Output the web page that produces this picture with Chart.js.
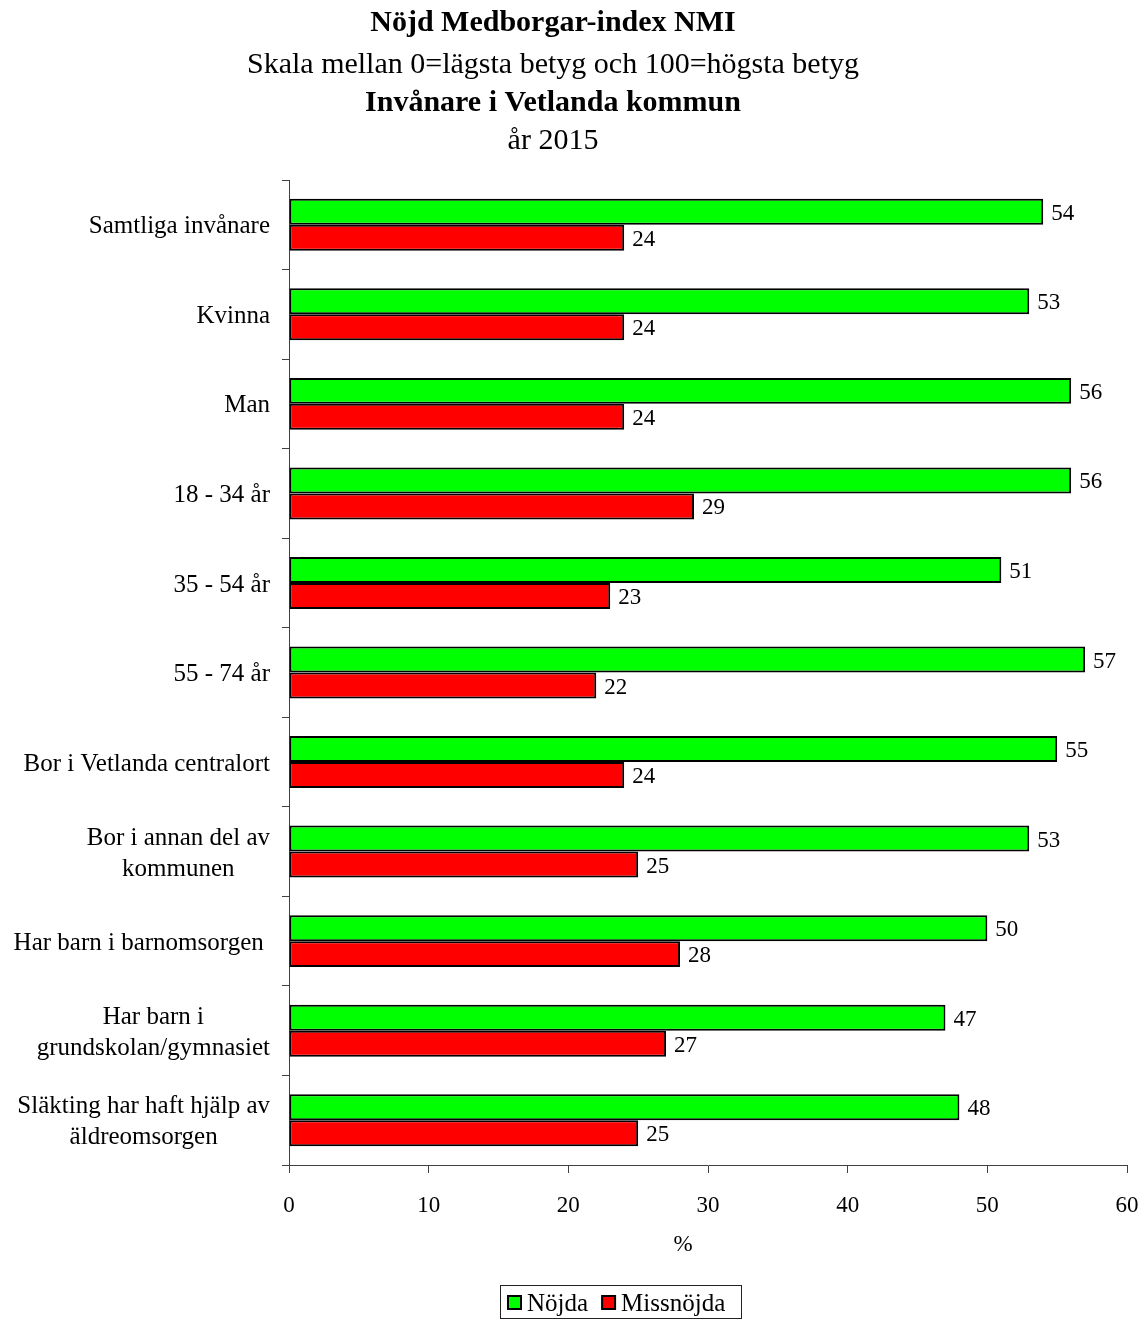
<!DOCTYPE html>
<html>
<head>
<meta charset="utf-8">
<script src="https://cdn.jsdelivr.net/npm/chart.js@4/dist/chart.umd.min.js"></script>
<style>
  html, body { margin: 0; padding: 0; background: #fff; }
</style>
</head>
<body>
<canvas id="myChart" width="1143" height="1319"></canvas>
<script>
const categories = [
    ['Samtliga invånare'],
    ['Kvinna'],
    ['Man'],
    ['18 - 34 år'],
    ['35 - 54 år'],
    ['55 - 74 år'],
    ['Bor i Vetlanda centralort'],
    ['Bor i annan del av', 'kommunen'],
    ['Har barn i barnomsorgen '],
    ['Har barn i', 'grundskolan/gymnasiet'],
    ['Släkting har haft hjälp av', 'äldreomsorgen']
];
const nojda = [54, 53, 56, 56, 51, 57, 55, 53, 50, 47, 48];
const missnojda = [24, 24, 24, 29, 23, 22, 24, 25, 28, 27, 25];
const xMin = 0, xMax = 60, xStep = 10;

const titleLines = [
    { text: 'Nöjd Medborgar-index NMI', bold: true, y: 23 },
    { text: 'Skala mellan 0=lägsta betyg och 100=högsta betyg', bold: false, y: 65 },
    { text: 'Invånare i Vetlanda kommun', bold: true, y: 103 },
    { text: 'år 2015', bold: false, y: 141 }
];

const serif = '"Liberation Serif", "Times New Roman", serif';
const axisColor = '#404040';

// titles, category labels, value labels, axis title and legend
const extras = {
    id: 'extras',
    afterDraw(chart) {
        const c = chart.ctx;
        c.save();
        c.fillStyle = '#000';
        c.textAlign = 'center';
        c.textBaseline = 'middle';
        titleLines.forEach(l => {
            c.font = (l.bold ? 'bold ' : '') + '30px ' + serif;
            c.fillText(l.text, 553, l.y);
        });

        // category labels: block right aligned, lines centered in block
        const yScale = chart.scales.y;
        c.font = '25px ' + serif;
        categories.forEach((lines, i) => {
            const yc = yScale.getPixelForTick(i) + 2;
            const maxW = Math.max(...lines.map(t => c.measureText(t).width));
            const cx = 270 - maxW / 2;
            const lh = 31;
            lines.forEach((t, j) => {
                c.fillText(t, cx, yc + (j - (lines.length - 1) / 2) * lh);
            });
        });

        // value labels
        c.font = '23px ' + serif;
        c.textAlign = 'left';
        chart.data.datasets.forEach((ds, di) => {
            chart.getDatasetMeta(di).data.forEach((bar, i) => {
                c.fillText(String(ds.data[i]), bar.x + 8, bar.y + 2);
            });
        });

        // x axis title
        c.textAlign = 'center';
        c.font = '23px ' + serif;
        c.fillText('%', 683, 1245);

        // legend
        c.strokeStyle = '#222';
        c.lineWidth = 1;
        c.strokeRect(500.5, 1285.5, 241, 33);
        c.font = '25px ' + serif;
        c.textAlign = 'left';
        let x = 508;
        chart.data.datasets.forEach(ds => {
            c.fillStyle = ds.backgroundColor;
            c.fillRect(x, 1296, 13, 13);
            c.strokeStyle = '#000';
            c.lineWidth = 2;
            c.strokeRect(x, 1296, 13, 13);
            c.fillStyle = '#000';
            c.fillText(ds.label, x + 19, 1304);
            x += 19 + c.measureText(ds.label).width + 14;
        });
        c.restore();
    }
};

const ctx = document.getElementById('myChart').getContext('2d');
const myChart = new Chart(ctx, {
    type: 'bar',
    data: {
        labels: categories,
        datasets: [{
            label: 'Nöjda',
            data: nojda,
            backgroundColor: '#00ff00',
            borderColor: '#000',
            borderWidth: 2,
            borderSkipped: false
        }, {
            label: 'Missnöjda',
            data: missnojda,
            backgroundColor: '#ff0000',
            borderColor: '#000',
            borderWidth: 2,
            borderSkipped: false
        }]
    },
    options: {
        indexAxis: 'y',
        responsive: false,
        animation: false,
        events: [],
        layout: {
            padding: { top: 180, left: 0, right: 16, bottom: 0 }
        },
        datasets: {
            bar: {
                barPercentage: 1,
                categoryPercentage: 0.58
            }
        },
        plugins: {
            legend: { display: false },
            title: { display: false },
            tooltip: { enabled: false }
        },
        scales: {
            x: {
                min: xMin,
                max: xMax,
                afterFit(scale) {
                    scale.height = 154;
                    scale.paddingLeft = 0;
                    scale.paddingRight = 0;
                },
                ticks: {
                    stepSize: xStep,
                    padding: 19,
                    color: '#000',
                    maxRotation: 0,
                    font: { family: serif, size: 23 }
                },
                grid: {
                    drawOnChartArea: false,
                    drawTicks: true,
                    tickLength: 8,
                    color: axisColor
                },
                border: { color: axisColor, width: 1 }
            },
            y: {
                afterFit(scale) { scale.width = 289; },
                ticks: { display: false },
                grid: {
                    offset: true,
                    drawOnChartArea: false,
                    drawTicks: true,
                    tickLength: 7,
                    color: axisColor
                },
                border: { color: axisColor, width: 1 }
            }
        }
    },
    plugins: [extras]
});
</script>
</body>
</html>
